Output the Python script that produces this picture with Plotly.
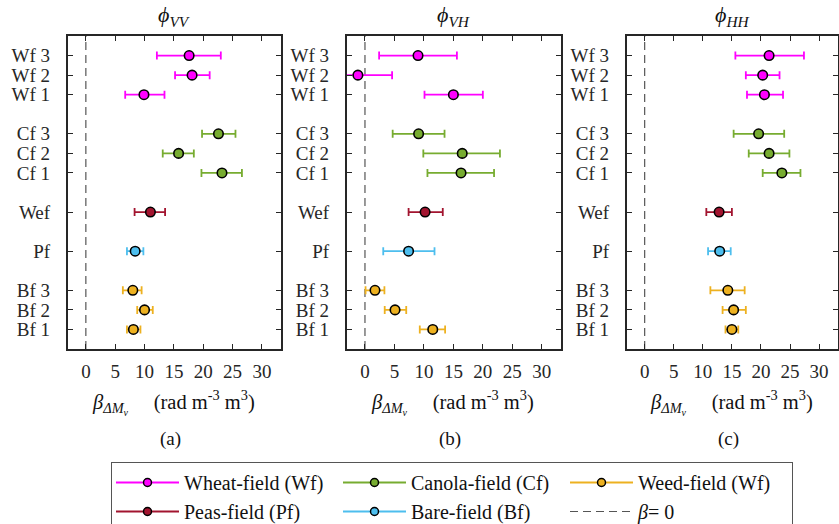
import plotly.graph_objects as go

# ---------------- data ----------------
rows = ["Wf 3", "Wf 2", "Wf 1", "Cf 3", "Cf 2", "Cf 1", "Wef", "Pf", "Bf 3", "Bf 2", "Bf 1"]
row_field = ["Wf", "Wf", "Wf", "Cf", "Cf", "Cf", "Wef", "Pf", "Bf", "Bf", "Bf"]
row_groups = [["Wf 3", "Wf 2", "Wf 1"], ["Cf 3", "Cf 2", "Cf 1"], ["Wef"], ["Pf"], ["Bf 3", "Bf 2", "Bf 1"]]

vv_mean = [17.6, 18.1, 9.9, 22.6, 15.8, 23.2, 11.0, 8.4, 8.0, 10.0, 8.1]
vv_low = [12.1, 15.2, 6.7, 19.8, 13.1, 19.7, 8.3, 7.0, 6.3, 8.75, 7.0]
vv_high = [23.0, 21.1, 13.4, 25.5, 18.4, 26.6, 13.5, 9.8, 9.5, 11.4, 9.3]

vh_mean = [9.0, -1.2, 15.0, 9.1, 16.5, 16.3, 10.2, 7.4, 1.7, 5.1, 11.5]
vh_low = [2.4, -7.0, 10.1, 4.7, 9.9, 10.6, 7.4, 3.1, 0.1, 3.35, 9.3]
vh_high = [15.6, 4.6, 20.0, 13.5, 22.9, 21.9, 13.2, 11.8, 3.3, 7.0, 13.6]

hh_mean = [21.4, 20.3, 20.6, 19.6, 21.4, 23.6, 12.8, 12.9, 14.3, 15.3, 15.0]
hh_low = [15.6, 17.4, 17.6, 15.3, 17.9, 20.3, 10.6, 10.9, 11.3, 13.4, 13.9]
hh_high = [27.4, 23.2, 23.8, 24.0, 24.9, 26.8, 15.0, 14.8, 17.2, 17.4, 16.1]

field_keys = ["Wf", "Cf", "Bf", "Wef", "Pf"]
field_names = ["Wheat-field (Wf)", "Canola-field (Cf)", "Weed-field (Wf)", "Peas-field (Pf)", "Bare-field (Bf)"]
field_colors = ["#FF00FF", "#77AC30", "#EDB120", "#A2142F", "#4DBEEE"]

panel_titles = ["<i>ϕ</i><sub><i>VV</i></sub>", "<i>ϕ</i><sub><i>VH</i></sub>", "<i>ϕ</i><sub><i>HH</i></sub>"]
panel_letters = ["(a)", "(b)", "(c)"]
x_ticks = [0, 5, 10, 15, 20, 25, 30]
zero_line_name = "<i>β</i>= 0"
x_label = "<i>β</i><sub><i>ΔM</i><sub><i>v</i></sub></sub>     (rad m<sup>-3</sup> m<sup>3</sup>)"

# ---------------- layout helpers ----------------
pos = {}
p = 1
for g in reversed(row_groups):
    for lab in reversed(g):
        pos[lab] = p
        p += 1
    p += 1
y_top = p - 1

W, H = 839, 524
x_doms = [(67.7, 281.0), (346.7, 561.0), (626.7, 838.0)]
y_dom = (1 - 349 / H, 1 - 36 / H)
x_range = [-3.1, 33.26]

FONT = "Liberation Serif, serif"
AX = "#262626"

panels = [(vv_mean, vv_low, vv_high), (vh_mean, vh_low, vh_high), (hh_mean, hh_low, hh_high)]

fig = go.Figure()

for pi, (m, lo, hi) in enumerate(panels):
    xa = "x" if pi == 0 else f"x{pi+1}"
    ya = "y" if pi == 0 else f"y{pi+1}"
    fig.add_trace(go.Scatter(
        x=[0, 0], y=[0, y_top], xaxis=xa, yaxis=ya, mode="lines",
        line=dict(color="#333333", width=1, dash="8px,5px"),
        name=zero_line_name, legendgroup="zero", showlegend=False, hoverinfo="skip"))
    for fk, col in zip(field_keys, field_colors):
        idx = [i for i, f in enumerate(row_field) if f == fk]
        xs = [m[i] for i in idx]
        ys = [pos[rows[i]] for i in idx]
        ep = [hi[i] - m[i] for i in idx]
        em = [m[i] - lo[i] for i in idx]
        fig.add_trace(go.Scatter(
            x=xs, y=ys, xaxis=xa, yaxis=ya, mode="markers",
            marker=dict(size=9.5, color=col, line=dict(color="black", width=1.6)),
            error_x=dict(type="data", array=ep, arrayminus=em, color=col, thickness=1.8, width=4),
            legendgroup=fk, showlegend=False))

for rank, (fk, nm, col) in enumerate(zip(field_keys, field_names, field_colors)):
    fig.add_trace(go.Scatter(
        x=[None], y=[None], mode="lines+markers", name=nm, legendgroup=fk, legendrank=rank + 1,
        marker=dict(size=8, color=col, line=dict(color="black", width=1.5)),
        line=dict(color=col, width=1.8)))
fig.add_trace(go.Scatter(
    x=[None], y=[None], mode="lines", name=zero_line_name, legendgroup="zero", legendrank=6,
    line=dict(color="#555555", width=1.2, dash="8px,5px")))

axis_common = dict(showline=True, linecolor=AX, linewidth=1.6, mirror="ticks",
                   ticks="inside", ticklen=5, tickcolor=AX, tickwidth=1,
                   showgrid=False, zeroline=False, automargin=False,
                   tickfont=dict(family=FONT, size=19, color="#262626"))

tickvals_y = [pos[r] for r in rows]
layout_axes = {}
annotations = []
for pi in range(3):
    xn = "xaxis" if pi == 0 else f"xaxis{pi+1}"
    yn = "yaxis" if pi == 0 else f"yaxis{pi+1}"
    x0, x1 = x_doms[pi]
    layout_axes[xn] = dict(axis_common, domain=[x0 / W, x1 / W], range=x_range,
                           tickvals=x_ticks, ticklabelstandoff=4,
                           anchor="y" if pi == 0 else f"y{pi+1}")
    layout_axes[yn] = dict(axis_common, domain=list(y_dom), range=[0, y_top],
                           tickvals=tickvals_y, ticktext=rows, ticklabelstandoff=12,
                           anchor="x" if pi == 0 else f"x{pi+1}")
    cx = (x0 + x1) / 2 / W
    annotations.append(dict(text=panel_titles[pi], x=cx, y=1 - 16 / H, xref="paper", yref="paper",
                            xanchor="center", yanchor="middle",
                            showarrow=False, font=dict(family=FONT, size=22, color="#111")))
    annotations.append(dict(text=x_label,
                            x=cx - 1 / W, y=1 - 402 / H, xref="paper", yref="paper",
                            xanchor="center", yanchor="middle",
                            showarrow=False, font=dict(family=FONT, size=20.5, color="#111")))
    annotations.append(dict(text=panel_letters[pi], x=cx - 4 / W, y=1 - 439 / H, xref="paper", yref="paper",
                            xanchor="center", yanchor="middle",
                            showarrow=False, font=dict(family=FONT, size=19, color="#111")))

fig.update_layout(
    width=W, height=H, margin=dict(l=0, r=0, t=0, b=0, autoexpand=False),
    paper_bgcolor="white", plot_bgcolor="white",
    font=dict(family=FONT, size=19, color="#111"),
    showlegend=True,
    legend=dict(orientation="h", x=111 / W, y=1 - 462 / H, xanchor="left", yanchor="top",
                entrywidth=149, entrywidthmode="pixels", itemwidth=63,
                bordercolor="#555555", borderwidth=1, bgcolor="white",
                font=dict(family=FONT, size=20, color="#111"), tracegroupgap=0),
    annotations=annotations,
    **layout_axes)

fig.write_html("out.html")
